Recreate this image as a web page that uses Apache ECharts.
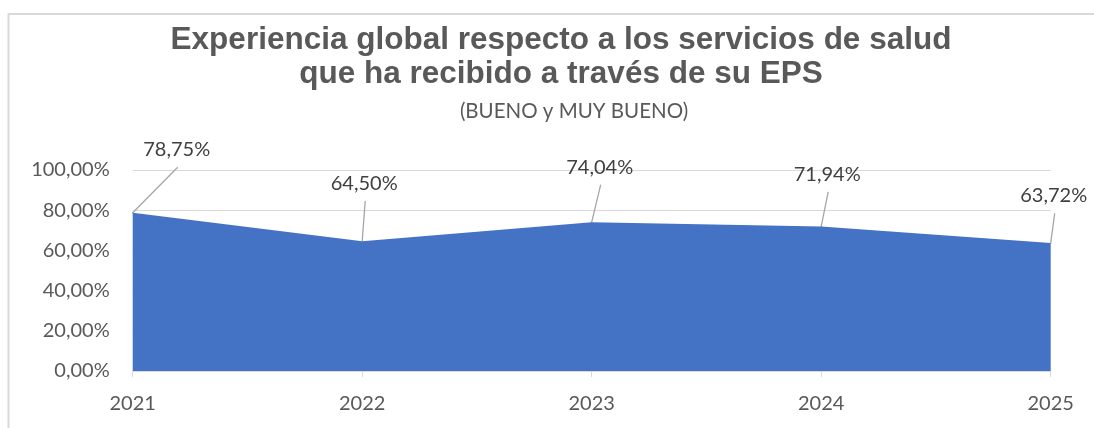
<!DOCTYPE html>
<html>
<head>
<meta charset="utf-8">
<script src="https://cdn.jsdelivr.net/npm/echarts@6/dist/echarts.min.js"></script>
<style>
  html, body { margin: 0; padding: 0; background: #ffffff; }
  #chart { width: 1094px; height: 428px; }
</style>
</head>
<body>
<div id="chart"></div>
<script>
// Survey years and share of "bueno" + "muy bueno" answers (percent)
const years = ['2021', '2022', '2023', '2024', '2025'];
const satisfaction = [78.75, 64.50, 74.04, 71.94, 63.72];

// Value axis ticks (percent)
const yMin = 0;
const yMax = 100;
const yStep = 20;

const titleLines = ['Experiencia global respecto a los servicios de salud', 'que ha recibido a través de su EPS'];
const subtitle = '(BUENO y MUY BUENO)';

// Where each value label sits relative to its point (label centre offset, px)
const labelOffsets = [[44, -63], [2, -58], [8, -55], [6, -52], [3, -47]];
// Leader lines stop this far below the label centre
const LEADER_GAP = 17.5;

const FONT = 'Lato, "Liberation Sans", sans-serif';
const TITLE_FONT = '"Liberation Sans", Arial, sans-serif';
const TEXT_GREY = '#595959';

function pct(v) {
  return v.toFixed(2).replace('.', ',') + '%';
}

const chart = echarts.init(document.getElementById('chart'), null, { renderer: 'canvas' });

chart.setOption({
  animation: false,
  backgroundColor: '#ffffff',
  textStyle: { fontFamily: FONT },
  title: [
    {
      text: titleLines.join('\n'),
      left: 556,
      top: 18,
      textAlign: 'center',
      textStyle: {
        fontFamily: TITLE_FONT,
        fontSize: 31.5,
        fontWeight: 'bold',
        lineHeight: 34,
        color: TEXT_GREY
      }
    },
    {
      text: subtitle,
      left: 569,
      top: 94,
      textAlign: 'center',
      textStyle: {
        fontFamily: FONT,
        fontSize: 20.5,
        fontWeight: 'normal',
        lineHeight: 24,
        color: TEXT_GREY
      }
    }
  ],
  graphic: [
    {
      // thin frame along the top and left edges of the chart area
      type: 'rect',
      silent: true,
      z: -1,
      shape: { x: 8.5, y: 14, width: 1200, height: 600 },
      style: { fill: 'none', stroke: '#d9d9d9', lineWidth: 2 }
    }
  ],
  grid: {
    left: 132.7,
    right: 43.3,
    top: 170,
    bottom: 57,
    containLabel: false
  },
  xAxis: {
    type: 'category',
    data: years,
    boundaryGap: false,
    axisLine: { show: true, lineStyle: { color: '#d9d9d9', width: 1 } },
    axisTick: { show: true, length: 6, lineStyle: { color: '#d9d9d9', width: 1 } },
    axisLabel: {
      fontFamily: FONT,
      fontSize: 20,
      lineHeight: 20,
      color: TEXT_GREY,
      margin: 23
    },
    splitLine: { show: false }
  },
  yAxis: {
    type: 'value',
    min: yMin,
    max: yMax,
    interval: yStep,
    axisLine: { show: false },
    axisTick: { show: false },
    axisLabel: {
      fontFamily: FONT,
      fontSize: 20,
      color: TEXT_GREY,
      margin: 23,
      formatter: pct
    },
    splitLine: { show: true, lineStyle: { color: '#d9d9d9', width: 1 } }
  },
  series: [
    {
      // filled area with the value labels
      type: 'line',
      data: satisfaction,
      showSymbol: true,
      symbol: 'circle',
      symbolSize: 1,
      itemStyle: { color: '#4472C4' },
      lineStyle: { width: 0, color: '#4472C4' },
      areaStyle: { color: '#4472C4', opacity: 1 },
      emphasis: { disabled: true },
      label: {
        show: true,
        position: 'top',
        fontFamily: FONT,
        fontSize: 20,
        lineHeight: 20,
        color: '#404040',
        formatter: function (p) { return pct(p.value); }
      },
      labelLayout: function (params) {
        const r = params.rect;
        const off = labelOffsets[params.dataIndex];
        return {
          x: r.x + r.width / 2 + off[0],
          y: r.y + r.height / 2 + off[1],
          align: 'center',
          verticalAlign: 'middle'
        };
      }
    },
    {
      // leader lines from each point up to its label
      type: 'custom',
      silent: true,
      z: 3,
      data: satisfaction.map(function (v, i) { return [i, v]; }),
      renderItem: function (params, api) {
        const p = api.coord([api.value(0), api.value(1)]);
        const off = labelOffsets[params.dataIndex];
        return {
          type: 'line',
          shape: {
            x1: p[0],
            y1: p[1],
            x2: p[0] + off[0] + 1,
            y2: p[1] + off[1] + LEADER_GAP
          },
          style: { stroke: '#a6a6a6', lineWidth: 1.3 }
        };
      }
    }
  ]
});
</script>
</body>
</html>
